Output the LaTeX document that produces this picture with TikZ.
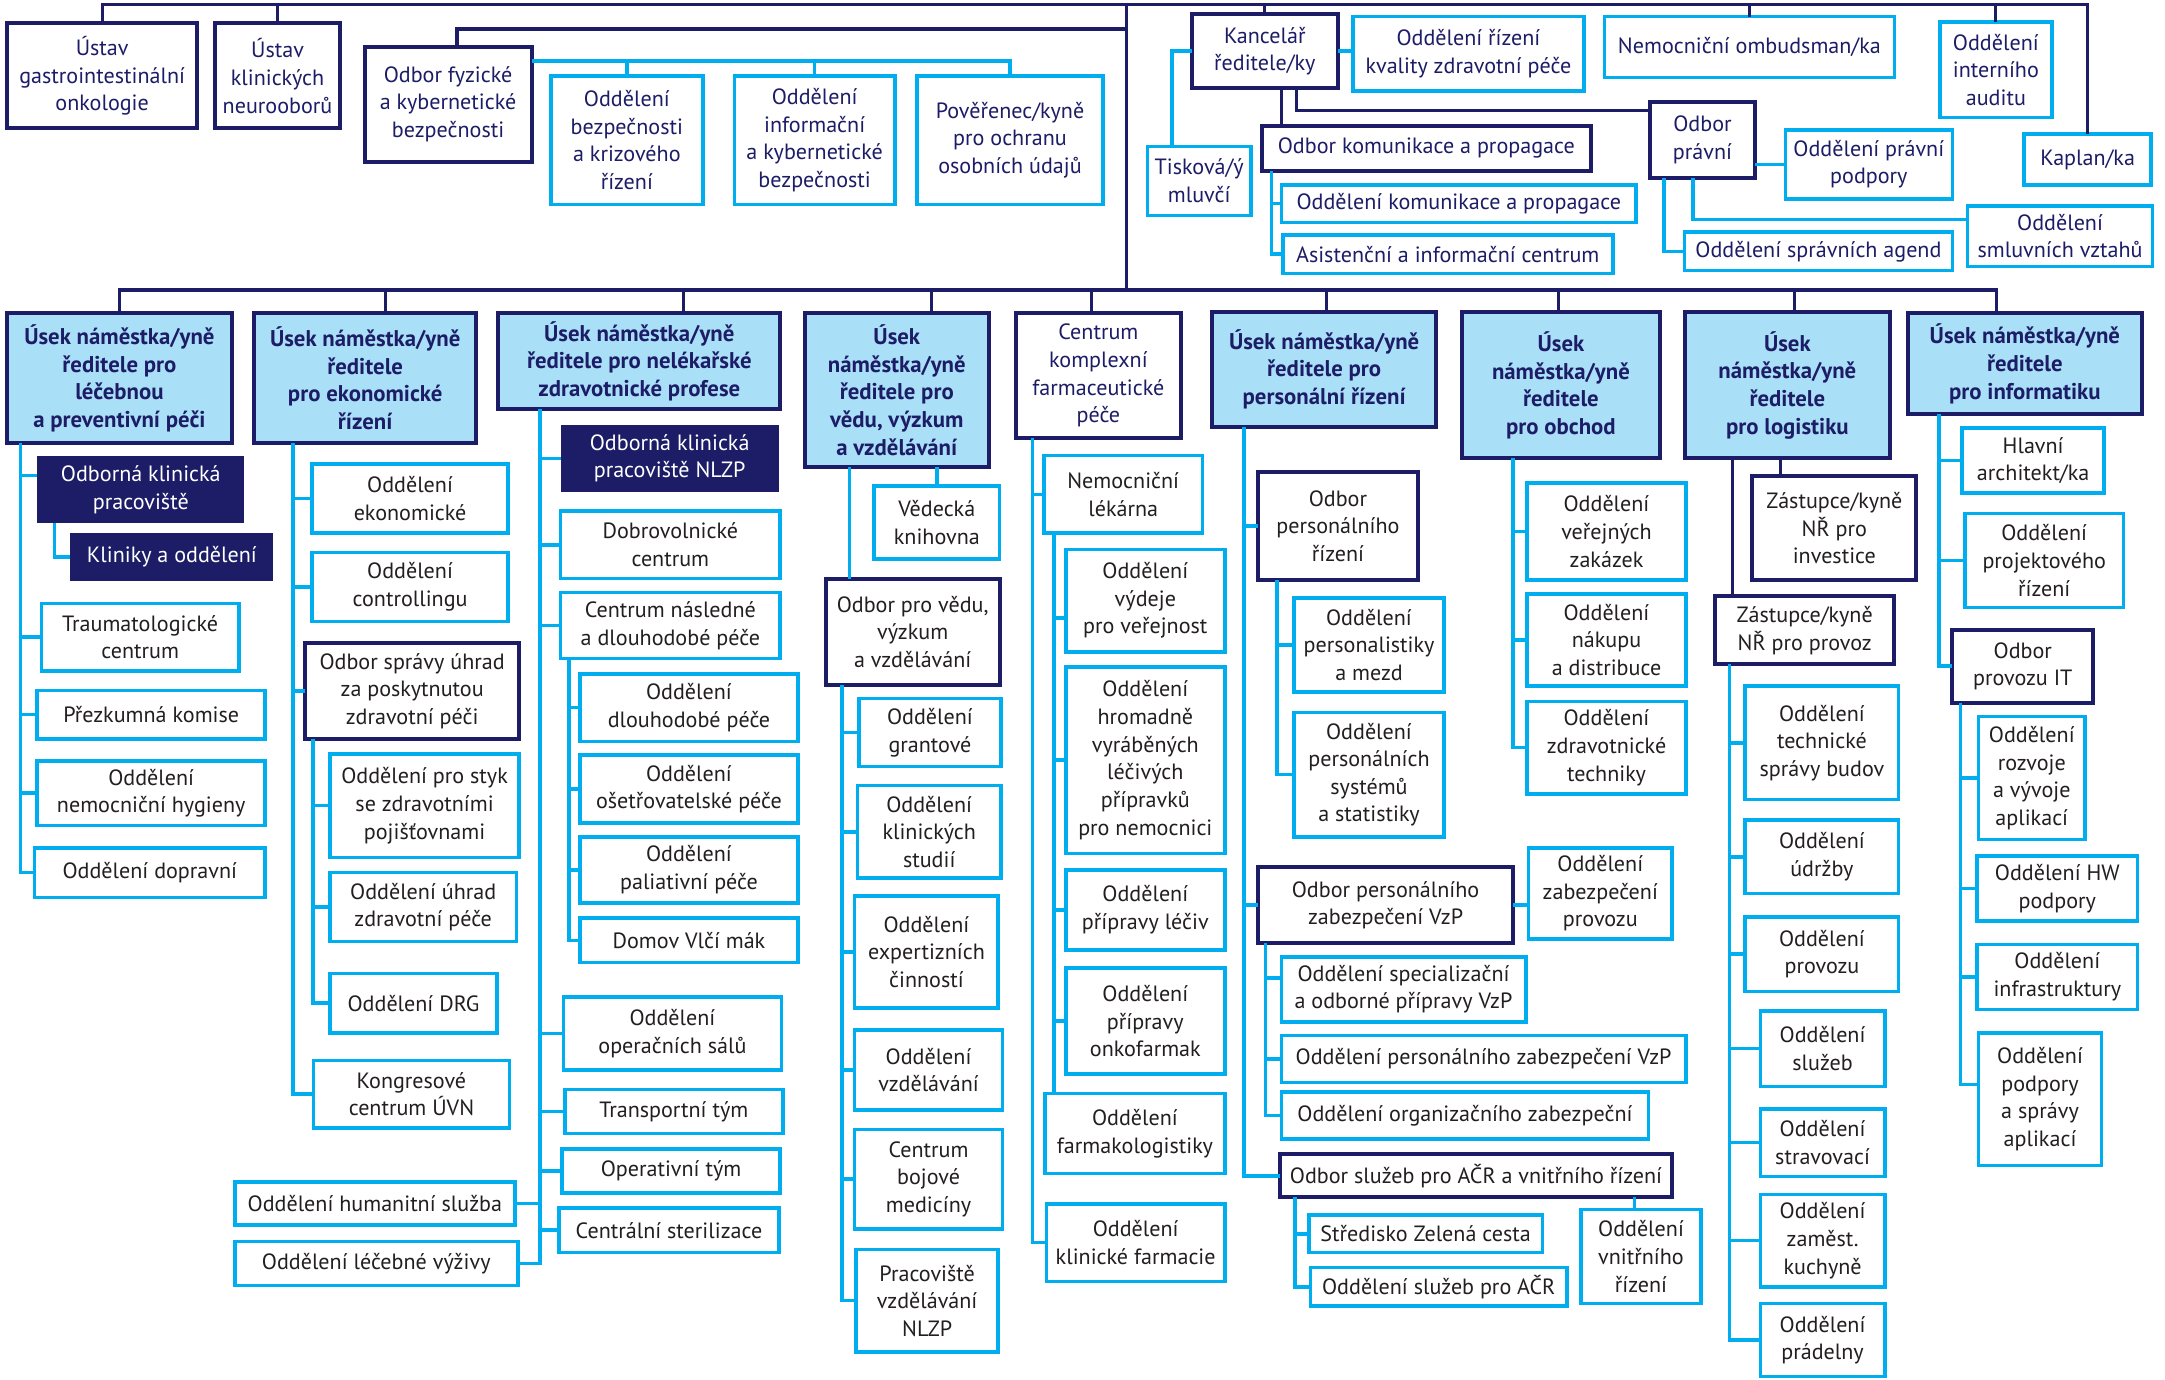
\documentclass[tikz,border=0pt]{standalone}
\usepackage{fontspec}
\setmainfont{PT Sans}
\definecolor{nv}{HTML}{1C1D66}
\definecolor{cy}{HTML}{00AEEF}
\definecolor{lb}{HTML}{AADFF8}
\definecolor{tx}{HTML}{231F20}
\newcommand\obx[7]{\node[#1, minimum width={(#5-#3)*1pt}, minimum height={(#6-#4)*1pt}] (#2) at ({(#3+#5)/2},{(#4+#6)/2}) {#7};}
\begin{document}
\begin{tikzpicture}[x=1pt,y=-1pt,
  base/.style={rectangle, inner sep=0pt, outer sep=0pt, align=center, line width=2.6pt, font=\fontsize{16}{20}\selectfont},
  cb/.style={base, draw=cy, fill=white, text=tx},
  nb/.style={base, draw=nv, line width=2.9pt, fill=white, text=tx},
  tcb/.style={cb, text=nv},
  tnb/.style={nb, text=nv},
  hb/.style={base, draw=nv, line width=2.9pt, fill=lb, text=nv, font=\fontsize{16.5}{20}\selectfont\bfseries},
  fb/.style={base, fill=nv, text=white},
  cl/.style={draw=cy, line width=2.6pt},
  nl/.style={draw=nv, line width=2.3pt}]
\useasboundingbox (0,0) rectangle (1568,999);
% ---------- top section ----------
\obx{tnb}{gastro}{5}{17}{143}{93}{Ústav\\gastrointestinální\\onkologie}
\obx{tnb}{neuro}{156}{17}{246}{93}{Ústav\\klinických\\neurooborů}
\obx{tnb}{ofb}{264}{34}{385}{117}{Odbor fyzické\\a kybernetické\\bezpečnosti}
\obx{tcb}{obk}{399}{55}{509}{148}{Oddělení\\bezpečnosti\\a krizového\\řízení}
\obx{tcb}{oik}{532}{55}{648}{148}{Oddělení\\informační\\a kybernetické\\bezpečnosti}
\obx{tcb}{poo}{664}{55}{799}{148}{Pověřenec/kyně\\pro ochranu\\osobních údajů}
\obx{tnb}{kan}{863}{10}{969}{64}{Kancelář\\ředitele/ky}
\obx{tcb}{ork}{980}{12}{1147}{66}{Oddělení řízení\\kvality zdravotní péče}
\obx{tcb}{omb}{1162}{12}{1372}{56}{Nemocniční ombudsman/ka}
\obx{tcb}{aud}{1405}{16}{1486}{85}{Oddělení\\interního\\auditu}
\obx{tcb}{kap}{1466}{97}{1558}{134}{Kaplan/ka}
\obx{tcb}{tis}{831}{106}{906}{156}{Tisková/ý\\mluvčí}
\obx{tnb}{okp}{914}{91}{1152}{124}{Odbor komunikace a propagace}
\obx{tcb}{dkp}{928}{134}{1185}{161}{Oddělení komunikace a propagace}
\obx{tcb}{aic}{929}{170}{1168}{198}{Asistenční a informační centrum}
\obx{tnb}{opr}{1195}{74}{1271}{129}{Odbor\\právní}
\obx{tcb}{opp}{1293}{94}{1414}{144}{Oddělení právní\\podpory}
\obx{tcb}{osv}{1425}{149}{1559}{193}{Oddělení\\smluvních vztahů}
\obx{tcb}{osa}{1220}{168}{1414}{196}{Oddělení správních agend}
% ---------- headers ----------
\obx{hb}{h1}{5}{227}{168}{321}{Úsek náměstka/yně\\ředitele pro\\léčebnou\\a preventivní péči}
\obx{hb}{h2}{184}{227}{345}{321}{Úsek náměstka/yně\\ředitele\\pro ekonomické\\řízení}
\obx{hb}{h3}{361}{227}{565}{296}{Úsek náměstka/yně\\ředitele pro nelékařské\\zdravotnické profese}
\obx{hb}{h4}{583}{227}{716}{338}{Úsek\\náměstka/yně\\ředitele pro\\vědu, výzkum\\a vzdělávání}
\obx{tnb}{h9}{736}{227}{855}{317}{Centrum\\komplexní\\farmaceutické\\péče}
\obx{hb}{h5}{878}{226}{1040}{309}{Úsek náměstka/yně\\ředitele pro\\personální řízení}
\obx{hb}{h6}{1059}{226}{1202}{332}{Úsek\\náměstka/yně\\ředitele\\pro obchod}
\obx{hb}{h7}{1220}{226}{1369}{332}{Úsek\\náměstka/yně\\ředitele\\pro logistiku}
\obx{hb}{h8}{1382}{227}{1551}{300}{Úsek náměstka/yně\\ředitele\\pro informatiku}
% ---------- column 1 ----------
\obx{fb}{okp1}{27}{330}{177}{379}{Odborná klinická\\pracoviště}
\obx{fb}{kli}{51}{386}{198}{421}{Kliniky a oddělení}
\obx{cb}{tra}{30}{437}{173}{486}{Traumatologické\\centrum}
\obx{cb}{pre}{27}{500}{192}{535}{Přezkumná komise}
\obx{cb}{hyg}{27}{551}{192}{598}{Oddělení\\nemocniční hygieny}
\obx{cb}{dop}{25}{614}{192}{650}{Oddělení dopravní}
% ---------- column 2 ----------
\obx{cb}{eko}{226}{336}{368}{386}{Oddělení\\ekonomické}
\obx{cb}{con}{226}{400}{368}{450}{Oddělení\\controllingu}
\obx{nb}{osu}{221}{466}{376}{535}{Odbor správy úhrad\\za poskytnutou\\zdravotní péči}
\obx{cb}{sty}{239}{546}{376}{621}{Oddělení pro styk\\se zdravotními\\pojišťovnami}
\obx{cb}{uhr}{239}{632}{374}{682}{Oddělení úhrad\\zdravotní péče}
\obx{cb}{drg}{239}{705}{360}{748}{Oddělení DRG}
\obx{cb}{kon}{227}{768}{369}{817}{Kongresové\\centrum ÚVN}
% ---------- column 3 ----------
\obx{fb}{nlzp}{406}{308}{564}{356}{Odborná klinická\\pracoviště NLZP}
\obx{cb}{dob}{406}{370}{565}{419}{Dobrovolnické\\centrum}
\obx{cb}{cnd}{406}{429}{565}{477}{Centrum následné\\a dlouhodobé péče}
\obx{cb}{dlo}{420}{488}{578}{537}{Oddělení\\dlouhodobé péče}
\obx{cb}{ose}{420}{547}{578}{596}{Oddělení\\ošetřovatelské péče}
\obx{cb}{pal}{420}{606}{578}{654}{Oddělení\\paliativní péče}
\obx{cb}{dvm}{420}{665}{578}{697}{Domov Vlčí mák}
\obx{cb}{sal}{408}{722}{566}{775}{Oddělení\\operačních sálů}
\obx{cb}{trt}{409}{789}{567}{821}{Transportní tým}
\obx{cb}{opt}{407}{832}{565}{864}{Operativní tým}
\obx{cb}{ste}{405}{875}{564}{907}{Centrální sterilizace}
\obx{cb}{hum}{170}{856}{373}{887}{Oddělení humanitní služba}
\obx{cb}{vyz}{170}{899}{375}{931}{Oddělení léčebné výživy}
% ---------- column 4 ----------
\obx{cb}{vkn}{633}{352}{724}{405}{Vědecká\\knihovna}
\obx{nb}{ovv}{598}{419}{724}{496}{Odbor pro vědu,\\výzkum\\a vzdělávání}
\obx{cb}{gra}{622}{506}{725}{555}{Oddělení\\grantové}
\obx{cb}{kst}{621}{569}{725}{636}{Oddělení\\klinických\\studií}
\obx{cb}{exp}{619}{649}{723}{730}{Oddělení\\expertizních\\činností}
\obx{cb}{vzd}{619}{746}{726}{804}{Oddělení\\vzdělávání}
\obx{cb}{boj}{619}{818}{726}{890}{Centrum\\bojové\\medicíny}
\obx{cb}{pvn}{620}{905}{723}{979}{Pracoviště\\vzdělávání\\NLZP}
% ---------- column 5 ----------
\obx{cb}{lek}{756}{330}{871}{386}{Nemocniční\\lékárna}
\obx{cb}{vyd}{772}{398}{887}{472}{Oddělení\\výdeje\\pro veřejnost}
\obx{cb}{hro}{772}{483}{887}{618}{Oddělení\\hromadně\\vyráběných\\léčivých\\přípravků\\pro nemocnici}
\obx{cb}{ppl}{772}{630}{887}{688}{Oddělení\\přípravy léčiv}
\obx{cb}{onk}{772}{701}{887}{778}{Oddělení\\přípravy\\onkofarmak}
\obx{cb}{fml}{757}{792}{887}{850}{Oddělení\\farmakologistiky}
\obx{cb}{klf}{758}{872}{887}{928}{Oddělení\\klinické farmacie}
% ---------- column 6 ----------
\obx{nb}{opri}{911}{342}{1027}{420}{Odbor\\personálního\\řízení}
\obx{cb}{pam}{937}{433}{1046}{501}{Oddělení\\personalistiky\\a mezd}
\obx{cb}{pss}{937}{516}{1046}{606}{Oddělení\\personálních\\systémů\\a statistiky}
\obx{nb}{vzp}{911}{628}{1096}{683}{Odbor personálního\\zabezpečení VzP}
\obx{cb}{zpr}{1107}{614}{1211}{680}{Oddělení\\zabezpečení\\provozu}
\obx{cb}{spe}{928}{693}{1105}{740}{Oddělení specializační\\a odborné přípravy VzP}
\obx{cb}{pzv}{928}{750}{1221}{784}{Oddělení personálního zabezpečení VzP}
\obx{cb}{org}{928}{791}{1194}{825}{Oddělení organizačního zabezpeční}
\obx{nb}{osl}{927}{836}{1211}{867}{Odbor služeb pro AČR a vnitřního řízení}
\obx{cb}{zel}{948}{880}{1117}{907}{Středisko Zelená cesta}
\obx{cb}{sac}{949}{918}{1135}{946}{Oddělení služeb pro AČR}
\obx{cb}{vni}{1145}{876}{1232}{944}{Oddělení\\vnitřního\\řízení}
% ---------- column 7 ----------
\obx{cb}{vza}{1106}{350}{1221}{420}{Oddělení\\veřejných\\zakázek}
\obx{cb}{nak}{1106}{430}{1221}{497}{Oddělení\\nákupu\\a distribuce}
\obx{cb}{zte}{1106}{508}{1221}{575}{Oddělení\\zdravotnické\\techniky}
% ---------- column 8 ----------
\obx{nb}{inv}{1269}{345}{1388}{420}{Zástupce/kyně\\NŘ pro\\investice}
\obx{nb}{prv}{1242}{432}{1372}{481}{Zástupce/kyně\\NŘ pro provoz}
\obx{cb}{tsb}{1264}{497}{1375}{579}{Oddělení\\technické\\správy budov}
\obx{cb}{udr}{1264}{594}{1375}{647}{Oddělení\\údržby}
\obx{cb}{prz}{1264}{664}{1375}{718}{Oddělení\\provozu}
\obx{cb}{slu}{1275}{732}{1365}{787}{Oddělení\\služeb}
\obx{cb}{stv}{1275}{803}{1365}{852}{Oddělení\\stravovací}
\obx{cb}{kuc}{1275}{865}{1365}{932}{Oddělení\\zaměst.\\kuchyně}
\obx{cb}{pra}{1275}{944}{1365}{997}{Oddělení\\prádelny}
% ---------- column 9 ----------
\obx{cb}{arc}{1421}{310}{1524}{357}{Hlavní\\architekt/ka}
\obx{cb}{prj}{1423}{372}{1538}{440}{Oddělení\\projektového\\řízení}
\obx{nb}{pit}{1414}{456}{1516}{509}{Odbor\\provozu IT}
\obx{cb}{roz}{1433}{519}{1510}{608}{Oddělení\\rozvoje\\a vývoje\\aplikací}
\obx{cb}{hwp}{1432}{620}{1548}{667}{Oddělení HW\\podpory}
\obx{cb}{inf}{1432}{684}{1548}{731}{Oddělení\\infrastruktury}
\obx{cb}{psa}{1433}{748}{1522}{844}{Oddělení\\podpory\\a správy\\aplikací}
% ================= connectors =================
\coordinate (top) at (816,3.5);
\coordinate (l2) at (816,21);
\coordinate (us) at (816,210);
\draw[nl] (gastro.north) -- (gastro.north |- top) -- (kap.north |- top) -- (kap.north);
\foreach \n in {neuro,kan,omb,aud} \draw[nl] (\n.north) -- (\n.north |- top);
\draw[nl] (top) -- (us);
\draw[nl] ([xshift=6.5pt]ofb.north) |- (l2);
% fyzicka bezpecnost
\coordinate (fh) at ([yshift=31.5pt]ofb.east);
\draw[cl] (fh) -| (poo.north);
\draw[cl] (obk.north) -- (obk.north |- fh);
\draw[cl] (oik.north) -- (oik.north |- fh);
% kancelar
\coordinate (tx) at (849,0);
\coordinate (kx1) at (928,0);
\coordinate (kx2) at (939,0);
\coordinate (kx3) at (921,0);
\coordinate (px1) at (1226,0);
\coordinate (px2) at (1205,0);
\draw[cl] (kan.west) -| (tx |- tis.north);
\draw[cl] (kan.east) -- (kan.east -| ork.west);
\draw[nl] (kan.south -| kx1) -- (okp.north -| kx1);
\draw[nl] (kan.south -| kx2) |- ([yshift=21.5pt]opr.west);
\draw[cl] (okp.south -| kx3) |- (aic.west);
\draw[cl] (dkp.west) -- (dkp.west -| kx3);
\draw[cl] (opp.west) -- (opp.west -| opr.east);
\draw[cl] (opr.south -| px1) |- ([yshift=12pt]osv.west);
\draw[cl] (opr.south -| px2) |- (osa.west);
% usek line
\draw[nl] (h1.north) |- ([xshift=-20.5pt]h8.north |- us) -- ([xshift=-20.5pt]h8.north);
\draw[nl] ([xshift=14.6pt]h2.north) -- ([xshift=14.6pt]h2.north |- us);
\draw[nl] ([xshift=32pt]h3.north) -- ([xshift=32pt]h3.north |- us);
\draw[nl] ([xshift=25pt]h4.north) -- ([xshift=25pt]h4.north |- us);
\draw[nl] ([xshift=-4.8pt]h9.north) -- ([xshift=-4.8pt]h9.north |- us);
\draw[nl] ([xshift=2pt]h5.north) -- ([xshift=2pt]h5.north |- us);
\draw[nl] ([xshift=-2pt]h6.north) -- ([xshift=-2pt]h6.north |- us);
\draw[nl] ([xshift=5pt]h7.north) -- ([xshift=5pt]h7.north |- us);
% column 1
\coordinate (v1) at (14.7,0);
\coordinate (v1k) at (39.6,0);
\draw[cl] (h1.south -| v1) |- (dop.west);
\draw[cl] ([yshift=10pt]okp1.west -| v1) -- ([yshift=10pt]okp1.west);
\foreach \n in {tra,pre,hyg} \draw[cl] (\n.west -| v1) -- (\n.west);
\draw[cl] (okp1.south -| v1k) |- (kli.west);
% column 2
\coordinate (v2) at (212.1,0);
\coordinate (v2b) at (226.6,0);
\draw[cl] (h2.south -| v2) |- (kon.west);
\foreach \n in {eko,con,osu} \draw[cl] (\n.west -| v2) -- (\n.west);
\draw[cl] (osu.south -| v2b) |- (drg.west);
\foreach \n in {sty,uhr} \draw[cl] (\n.west -| v2b) -- (\n.west);
% column 3
\coordinate (v3) at (391.1,0);
\coordinate (v3b) at (412.3,0);
\draw[cl] (h3.south -| v3) |- (vyz.east);
\foreach \n in {nlzp,dob,cnd,sal,trt,opt,ste} \draw[cl] (\n.west -| v3) -- (\n.west);
\draw[cl] (hum.east) -- (hum.east -| v3);
\draw[cl] (cnd.south -| v3b) |- (dvm.west);
\foreach \n in {dlo,ose,pal} \draw[cl] (\n.west -| v3b) -- (\n.west);
% column 4
\coordinate (v4) at (615.1,0);
\coordinate (v4b) at (609.9,0);
\draw[cl] (h4.south -| v4) -- (ovv.north -| v4);
\draw[cl] (vkn.north) -- (vkn.north |- h4.south);
\draw[cl] (ovv.south -| v4b) |- (pvn.west);
\foreach \n in {gra,kst,exp,vzd,boj} \draw[cl] (\n.west -| v4b) -- (\n.west);
% column 5
\coordinate (v5) at (747.9,0);
\coordinate (v5b) at (763.4,0);
\draw[cl] (h9.south -| v5) |- (klf.west);
\draw[cl] (lek.west -| v5) -- (lek.west);
\draw[cl] (lek.south -| v5b) -- (fml.north -| v5b);
\draw[cl] ([yshift=-12.7pt]vyd.west -| v5b) -- ([yshift=-12.7pt]vyd.west);
\foreach \n in {hro,ppl,onk} \draw[cl] (\n.west -| v5b) -- (\n.west);
% column 6
\coordinate (v6) at (901.1,0);
\coordinate (v6b) at (924.7,0);
\coordinate (v6c) at (916.5,0);
\coordinate (v6d) at (937.8,0);
\draw[cl] (h5.south -| v6) |- (osl.west);
\foreach \n in {opri,vzp} \draw[cl] (\n.west -| v6) -- (\n.west);
\draw[cl] (opri.south -| v6b) |- (pss.west);
\draw[cl] (pam.west -| v6b) -- (pam.west);
\draw[cl] (vzp.south -| v6c) |- (org.west);
\draw[cl] ([yshift=8pt]spe.west -| v6c) -- ([yshift=8pt]spe.west);
\draw[cl] (pzv.west -| v6c) -- (pzv.west);
\draw[cl] (vzp.east) -- (vzp.east -| zpr.west);
\draw[cl] (osl.south -| v6d) |- (sac.west);
\draw[cl] (zel.west -| v6d) -- (zel.west);
\draw[cl] ([xshift=-4.7pt]vni.north) -- ([xshift=-4.7pt]vni.north |- osl.south);
% column 7
\coordinate (v7) at (1095.8,0);
\draw[cl] (h6.south -| v7) |- (zte.west);
\foreach \n in {vza,nak} \draw[cl] (\n.west -| v7) -- (\n.west);
% column 8
\coordinate (v8) at (1255,0);
\coordinate (v8i) at (1289.3,0);
\coordinate (v8b) at (1252.5,0);
\draw[nl] (h7.south -| v8) -- (prv.north -| v8);
\draw[nl] (h7.south -| v8i) -- (inv.north -| v8i);
\draw[cl] (prv.south -| v8b) |- (pra.west);
\foreach \n in {tsb,udr,prz,slu,stv,kuc} \draw[cl] (\n.west -| v8b) -- (\n.west);
% column 9
\coordinate (v9) at (1404.2,0);
\coordinate (v9b) at (1420,0);
\draw[cl] (h8.south -| v9) |- (pit.west);
\foreach \n in {arc,prj} \draw[cl] (\n.west -| v9) -- (\n.west);
\draw[cl] (pit.south -| v9b) |- ([yshift=10.5pt]psa.west);
\foreach \n in {roz,hwp,inf} \draw[cl] (\n.west -| v9b) -- (\n.west);
\end{tikzpicture}
\end{document}
